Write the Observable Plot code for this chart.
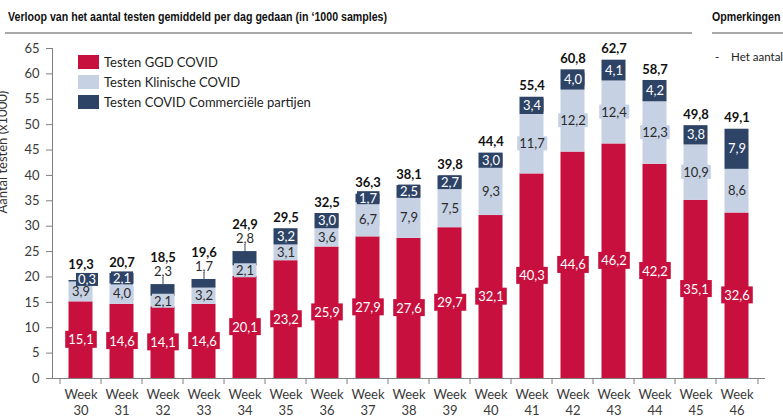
<!DOCTYPE html>
<html>
<head>
<meta charset="utf-8">
<script src="https://cdn.jsdelivr.net/npm/d3@7"></script>
<script src="https://cdn.jsdelivr.net/npm/@observablehq/plot@0.6"></script>
<style>
  html, body { margin: 0; padding: 0; background: #fff; }
  body { width: 783px; height: 416px; overflow: hidden; position: relative; font-family: Lato, sans-serif; color: #222; }
  .abs { position: absolute; white-space: nowrap; }
  .hdr { font-family: "Liberation Sans Narrow", sans-serif; font-weight: bold; font-size: 12.5px; color: #111; transform: scaleX(0.85); transform-origin: left center; }
  .rule { position: absolute; height: 2px; background: #a9a9a9; }
  #chart { position: absolute; left: 0; top: 40px; }
  #legend { position: absolute; left: 78px; top: 52px; font-size: 13px; color: #222; }
  #legend .row { display: flex; align-items: center; height: 20px; }
  #legend .sw { width: 21px; height: 14px; margin-right: 5px; }
</style>
</head>
<body>
<div class="abs hdr" style="left:8px; top:10px;">Verloop van het aantal testen gemiddeld per dag gedaan (in ‘1000 samples)</div>
<div class="rule" style="left:5px; top:32px; width:687px;"></div>
<div class="abs hdr" style="left:712px; top:10px;">Opmerkingen</div>
<div class="rule" style="left:712px; top:32px; width:71px;"></div>
<div class="abs" style="left:715px; top:50px; font-size:11.5px; color:#222;">-&nbsp;&nbsp;&nbsp;&nbsp;Het aantal</div>
<div id="chart"></div>
<div id="legend"></div>
<script>
// ---- data ----
const weeks = [30, 31, 32, 33, 34, 35, 36, 37, 38, 39, 40, 41, 42, 43, 44, 45, 46];
const ggd = [15.1, 14.6, 14.1, 14.6, 20.1, 23.2, 25.9, 27.9, 27.6, 29.7, 32.1, 40.3, 44.6, 46.2, 42.2, 35.1, 32.6];
const klinisch = [3.9, 4.0, 2.1, 3.2, 2.1, 3.1, 3.6, 6.7, 7.9, 7.5, 9.3, 11.7, 12.2, 12.4, 12.3, 10.9, 8.6];
const commercieel = [0.3, 2.1, 2.3, 1.7, 2.8, 3.2, 3.0, 1.7, 2.5, 2.7, 3.0, 3.4, 4.0, 4.1, 4.2, 3.8, 7.9];
const totals = [19.3, 20.7, 18.5, 19.6, 24.9, 29.5, 32.5, 36.3, 38.1, 39.8, 44.4, 55.4, 60.8, 62.7, 58.7, 49.8, 49.1];
const seriesNames = ["Testen GGD COVID", "Testen Klinische COVID", "Testen COVID Commerciële partijen"];
const seriesColors = ["#c8103e", "#c6d1e4", "#2e4467"];
const outsideWeeks = [32, 33, 34]; // weeks whose commercial label sits above the bar
const nudgedWeeks = [30];          // tiny commercial segment: label nudged right, total raised
const yTicks = [0, 5, 10, 15, 20, 25, 30, 35, 40, 45, 50, 55, 60, 65];
const yLabel = "Aantal testen (x1000)";

// ---- table built from the arrays ----
const seriesArrays = [ggd, klinisch, commercieel];
const rows = [];
weeks.forEach((w, i) => {
  let base = 0;
  seriesArrays.forEach((arr, s) => {
    rows.push({
      week: w, series: seriesNames[s], s, value: arr[i],
      y1: base, y2: base + arr[i], mid: base + arr[i] / 2,
      outside: s === 2 && outsideWeeks.includes(w),
      nudged: s === 2 && nudgedWeeks.includes(w)
    });
    base += arr[i];
  });
});
const totalRows = weeks.map((w, i) => ({
  week: w, total: totals[i], top: ggd[i] + klinisch[i] + commercieel[i],
  outside: outsideWeeks.includes(w), nudged: nudgedWeeks.includes(w)
}));

const fmt = v => d3.format(".1f")(v).replace(".", ",");

const W = 783, H = 376, ML = 52, MR = 18, MT = 8, MB = 38;
const step = (W - ML - MR) / weeks.length;
const axisColor = "#808080";

const chart = Plot.plot({
  width: W, height: H,
  marginLeft: ML, marginRight: MR, marginTop: MT, marginBottom: MB,
  style: { fontFamily: "Lato, sans-serif", fontSize: "13px", color: "#333", background: "transparent", overflow: "visible" },
  x: { type: "band", domain: weeks, padding: 0, label: null },
  y: { domain: [0, 65], label: null },
  color: { domain: seriesNames, range: seriesColors },
  marks: [
    Plot.barY(rows, { x: "week", y1: "y1", y2: "y2", fill: "series", insetLeft: 8.5, insetRight: 8.5 }),
    Plot.frame({ anchor: "left", stroke: axisColor }),
    Plot.ruleY([0], { stroke: axisColor }),
    Plot.axisY({ ticks: yTicks, tickSize: 6, tickPadding: 7, stroke: axisColor, fill: "#3a3a3a", fontSize: 13, label: null }),
    Plot.axisX({ tickSize: 0, tickPadding: 9, tickFormat: w => "Week\n" + w, lineHeight: 1.25, fill: "#3a3a3a", fontSize: 13, label: null }),
    Plot.axisX({ tickSize: 6, tickFormat: () => "", dx: -step / 2, stroke: axisColor, label: null }),
    Plot.axisX([weeks[weeks.length - 1]], { tickSize: 6, tickFormat: () => "", dx: step / 2, stroke: axisColor, label: null }),
    Plot.text([yLabel], { frameAnchor: "left", rotate: -90, dx: -50, fontSize: 13, fill: "#333" }),
    // segment labels
    Plot.text(rows.filter(d => d.s === 0), { x: "week", y: "mid", text: d => fmt(d.value), fill: "white", fontSize: 13, ariaDescription: "box-0" }),
    Plot.text(rows.filter(d => d.s === 1), { x: "week", y: "mid", text: d => fmt(d.value), fill: "#2a2a2a", fontSize: 13, ariaDescription: "box-1" }),
    Plot.text(rows.filter(d => d.s === 2 && !d.outside && !d.nudged), { x: "week", y: "mid", text: d => fmt(d.value), fill: "white", fontSize: 13, ariaDescription: "box-2" }),
    Plot.text(rows.filter(d => d.nudged), { x: "week", y: "mid", dx: 6, dy: -1, text: d => fmt(d.value), fill: "white", fontSize: 13, ariaDescription: "box-2" }),
    Plot.ruleX(rows.filter(d => d.outside), { x: "week", y1: "y2", y2: "y2", insetTop: -7, insetBottom: -4, stroke: "#2e4467" }),
    Plot.text(rows.filter(d => d.outside), { x: "week", y: "y2", dy: -13, text: d => fmt(d.value), fill: "#2a2a2a", fontSize: 13 }),
    // totals
    Plot.text(totalRows.filter(d => !d.outside && !d.nudged), { x: "week", y: "top", dy: -11, text: d => fmt(d.total), fill: "#111", fontWeight: "bold", fontSize: 13 }),
    Plot.text(totalRows.filter(d => d.nudged), { x: "week", y: "top", dy: -16, text: d => fmt(d.total), fill: "#111", fontWeight: "bold", fontSize: 13 }),
    Plot.text(totalRows.filter(d => d.outside), { x: "week", y: "top", dy: -27, text: d => fmt(d.total), fill: "#111", fontWeight: "bold", fontSize: 13 })
  ]
});
document.getElementById("chart").append(chart);

// boxes behind segment labels, sized from the rendered text
const boxPad = [[3, 0.5], [2, -1], [2, -1.5]];
[0, 1, 2].forEach(s => {
  chart.querySelectorAll(`g[aria-description="box-${s}"] text`).forEach(t => {
    const b = t.getBBox();
    const [px, py] = boxPad[s];
    const r = document.createElementNS("http://www.w3.org/2000/svg", "rect");
    r.setAttribute("x", b.x - px);
    r.setAttribute("y", b.y - py);
    r.setAttribute("width", b.width + 2 * px);
    r.setAttribute("height", b.height + 2 * py);
    r.setAttribute("fill", seriesColors[s]);
    r.setAttribute("stroke", "none");
    const tr = t.getAttribute("transform");
    if (tr) r.setAttribute("transform", tr);
    t.parentNode.insertBefore(r, t);
  });
});

// legend
const legend = document.getElementById("legend");
seriesNames.forEach((name, i) => {
  const row = document.createElement("div");
  row.className = "row";
  const sw = document.createElement("div");
  sw.className = "sw";
  sw.style.background = seriesColors[i];
  const lab = document.createElement("span");
  lab.textContent = name;
  row.append(sw, lab);
  legend.append(row);
});
</script>
</body>
</html>
